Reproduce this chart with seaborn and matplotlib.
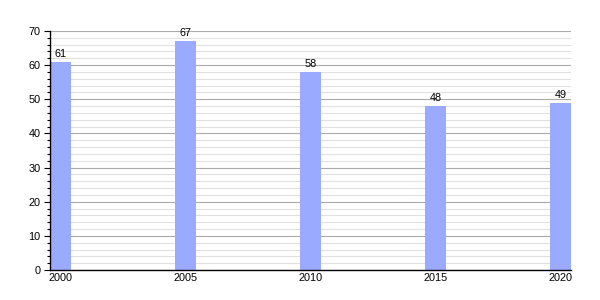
import matplotlib
matplotlib.use("Agg")
import matplotlib.pyplot as plt
import seaborn as sns
import pandas as pd
from matplotlib.ticker import MultipleLocator

years = [2000, 2005, 2010, 2015, 2020]
values = [61, 67, 58, 48, 49]

sns.set_style("white")
plt.rcParams['font.family'] = ['Liberation Sans', 'DejaVu Sans']
plt.rcParams['text.color'] = 'black'
plt.rcParams['xtick.color'] = 'black'
plt.rcParams['ytick.color'] = 'black'

df = pd.DataFrame({"year": years, "value": values})

fig = plt.figure(figsize=(6, 3), dpi=100)
ax = fig.add_axes([50/600, 30/300, 521/600, 239/300])

sns.barplot(data=df, x="year", y="value", native_scale=True, width=0.168,
            color="#99aaff", saturation=1, ax=ax, zorder=3, edgecolor="none")

ax.set_xlim(2000 - 0.43, 2020 + 0.43)
ax.set_ylim(0, 70)
ax.set_xticks(years)
ax.set_xticklabels([str(y) for y in years])
ax.yaxis.set_major_locator(MultipleLocator(10))
ax.yaxis.set_minor_locator(MultipleLocator(2))
ax.grid(True, which="major", axis="y", color="#aaaaaa", linewidth=0.8, zorder=0)
ax.grid(True, which="minor", axis="y", color="#e0e0e0", linewidth=0.8, zorder=0)
ax.set_axisbelow(True)

for s in ["top", "right"]:
    ax.spines[s].set_visible(False)
for s in ["left", "bottom"]:
    ax.spines[s].set_color("black")
    ax.spines[s].set_linewidth(1.0)
    ax.spines[s].set_zorder(5)

ax.tick_params(axis="y", which="major", length=4, width=0.8, color="black",
               labelcolor="black", labelsize=7.8, pad=3, left=True)
ax.tick_params(axis="y", which="minor", length=2, width=0.8, color="black", left=True)
ax.tick_params(axis="x", length=0, labelsize=7.8, labelcolor="black", pad=2)

ax.set_xlabel("")
ax.set_ylabel("")

for c in ax.containers:
    ax.bar_label(c, labels=[str(v) for v in values], padding=2, fontsize=7.8, color="black")

fig.savefig("out.png", dpi=100)
